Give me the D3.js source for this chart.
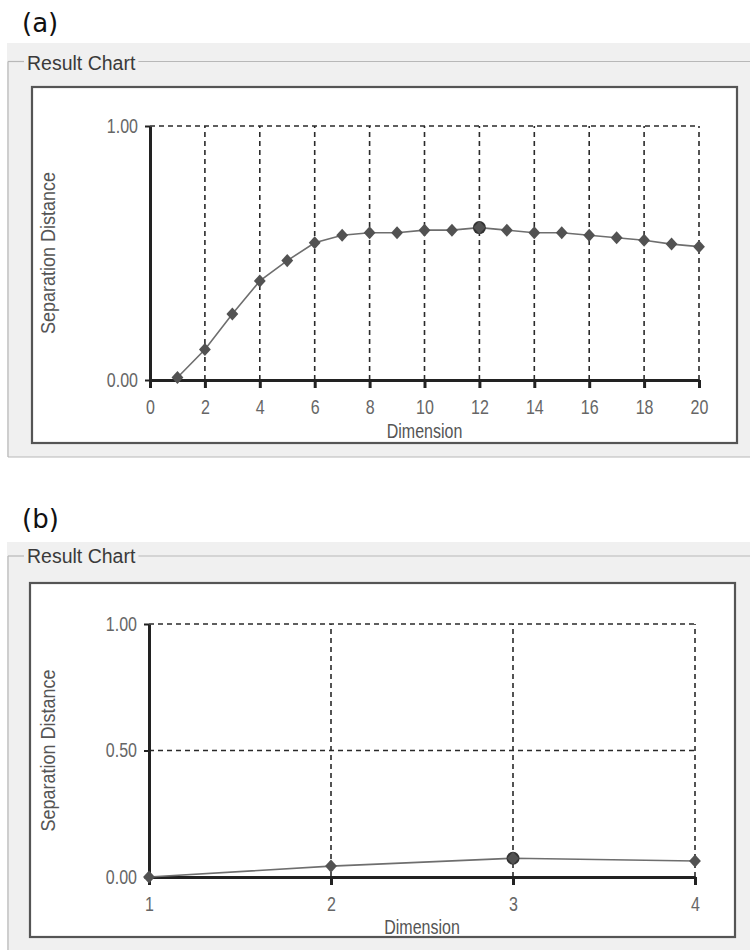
<!DOCTYPE html>
<html><head><meta charset="utf-8">
<script src="https://cdn.jsdelivr.net/npm/d3@7"></script>
<style>
html,body{margin:0;padding:0;background:#fff;}
svg{display:block;}
</style></head><body>
<svg id="c" width="750" height="950"></svg>
<script>
// ---------- data ----------
const panelLabels = ["(a)", "(b)"];
const boxTitle = "Result Chart";
const xAxisTitle = "Dimension";
const yAxisTitle = "Separation Distance";

const dimsA = [1,2,3,4,5,6,7,8,9,10,11,12,13,14,15,16,17,18,19,20];
const distA = [0.01,0.12,0.26,0.39,0.47,0.54,0.57,0.58,0.58,0.59,0.59,0.60,0.59,0.58,0.58,0.57,0.56,0.55,0.535,0.525];
const xTicksA = [0,2,4,6,8,10,12,14,16,18,20];
const yTicksA = [0,1];
const selectedA = [12];

const dimsB = [1,2,3,4];
const distB = [0.0,0.043,0.074,0.063];
const xTicksB = [1,2,3,4];
const yTicksB = [0,0.5,1];
const selectedB = [3];

// ---------- layout (positions only) ----------
const layouts = [
  {labelY:32, grayTop:43, grayBottom:457, lineY:61.5, titleY:70,
   frame:{x0:32,y0:87,x1:737,y1:443}, plot:{x0:150,x1:699,y0:126,y1:380},
   xDomain:[0,20], xTitleY:438, yTitleX:55},
  {labelY:528, grayTop:542, grayBottom:960, lineY:556, titleY:563,
   frame:{x0:30,y0:583,x1:735,y1:937}, plot:{x0:149,x1:695,y0:624,y1:877},
   xDomain:[1,4], xTitleY:934, yTitleX:55}
];
const panels = [
  {label:panelLabels[0], dims:dimsA, dist:distA, xTicks:xTicksA, yTicks:yTicksA, sel:selectedA},
  {label:panelLabels[1], dims:dimsB, dist:distB, xTicks:xTicksB, yTicks:yTicksB, sel:selectedB}
];

const FONT = "'Liberation Sans', Arial, sans-serif";
const svg = d3.select("#c");

const diamondType = {
  draw(ctx, size) {
    const r = Math.sqrt(size / 2);
    ctx.moveTo(0, -r * 1.1);
    ctx.lineTo(r, 0);
    ctx.lineTo(0, r * 1.1);
    ctx.lineTo(-r, 0);
    ctx.closePath();
  }
};

panels.forEach((p, i) => {
  const L = layouts[i];
  const g = svg.append("g");

  // panel label
  g.append("text").attr("x", 22).attr("y", L.labelY)
    .attr("font-family", "'DejaVu Sans', sans-serif").attr("font-size", 26)
    .attr("fill", "#111").text(p.label);

  // gray group box background
  g.append("rect").attr("x", 7).attr("y", L.grayTop)
    .attr("width", 743).attr("height", L.grayBottom - L.grayTop)
    .attr("fill", "#f0f0f0");

  // group box etched lines
  const title = g.append("text").attr("x", 27).attr("y", L.titleY)
    .attr("font-family", FONT).attr("font-size", 19.5).attr("fill", "#3a3a3a")
    .text(boxTitle);
  const tw = title.node().getComputedTextLength();
  const etch = (x1, y1, x2, y2) => {
    g.append("line").attr("x1", x1).attr("y1", y1).attr("x2", x2).attr("y2", y2)
      .attr("stroke", "#b8b8b8").attr("stroke-width", 1.2);
  };
  etch(8, L.lineY, 24, L.lineY);
  etch(27 + tw + 3, L.lineY, 750, L.lineY);
  etch(8, L.lineY, 8, Math.min(L.grayBottom, 950));
  if (L.grayBottom < 950) etch(8, L.grayBottom, 750, L.grayBottom);

  // chart frame
  const F = L.frame;
  g.append("rect").attr("x", F.x0).attr("y", F.y0)
    .attr("width", F.x1 - F.x0).attr("height", F.y1 - F.y0)
    .attr("fill", "#fff").attr("stroke", "#555").attr("stroke-width", 2.2);

  const P = L.plot;
  const x = d3.scaleLinear().domain(L.xDomain).range([P.x0, P.x1]);
  const y = d3.scaleLinear().domain([0, 1]).range([P.y1, P.y0]);

  // grid
  const grid = g.append("g").attr("stroke", "#2a2a2a").attr("stroke-width", 1.6)
    .attr("stroke-dasharray", "5,4").attr("fill", "none");
  p.xTicks.filter(t => t !== L.xDomain[0]).forEach(t => {
    grid.append("line").attr("x1", x(t)).attr("x2", x(t))
      .attr("y1", y(0)).attr("y2", y(1));
  });
  p.yTicks.filter(t => t !== 0).forEach(t => {
    grid.append("line").attr("x1", x(L.xDomain[0])).attr("x2", x(L.xDomain[1]))
      .attr("y1", y(t)).attr("y2", y(t));
  });

  // x axis
  const xa = g.append("g").attr("transform", `translate(0,${y(0)})`)
    .call(d3.axisBottom(x).tickValues(p.xTicks).tickFormat(d3.format("d"))
      .tickSizeInner(8).tickSizeOuter(0).tickPadding(12));
  xa.select(".domain").attr("stroke", "#222").attr("stroke-width", 3);
  xa.selectAll(".tick line").attr("stroke", "#222").attr("stroke-width", 3);
  xa.selectAll(".tick text").attr("font-family", FONT).attr("font-size", 20)
    .attr("fill", "#666").attr("transform", "scale(0.8,1)");

  // y axis
  const ya = g.append("g").attr("transform", `translate(${x(L.xDomain[0])},0)`)
    .call(d3.axisLeft(y).tickValues(p.yTicks).tickFormat(d3.format(".2f"))
      .tickSizeInner(5).tickSizeOuter(0).tickPadding(7));
  ya.select(".domain").attr("stroke", "#222").attr("stroke-width", 3);
  ya.selectAll(".tick line").attr("stroke", "#222").attr("stroke-width", 2);
  ya.selectAll(".tick text").attr("font-family", FONT).attr("font-size", 20)
    .attr("fill", "#666").attr("x", -12 / 0.8).attr("transform", "scale(0.8,1)");

  // axis titles
  g.append("text")
    .attr("transform", `translate(${(P.x0 + P.x1) / 2},${L.xTitleY}) scale(0.8,1)`)
    .attr("text-anchor", "middle").attr("font-family", FONT).attr("font-size", 20)
    .attr("fill", "#555").text(xAxisTitle);
  g.append("text")
    .attr("transform", `translate(${L.yTitleX},${(P.y0 + P.y1) / 2}) rotate(-90) scale(0.9,1)`)
    .attr("text-anchor", "middle").attr("font-family", FONT).attr("font-size", 20)
    .attr("fill", "#555").text(yAxisTitle);

  // series line
  const pts = p.dims.map((d, k) => [d, p.dist[k]]);
  g.append("path").datum(pts)
    .attr("d", d3.line().x(d => x(d[0])).y(d => y(d[1])))
    .attr("fill", "none").attr("stroke", "#6e6e6e").attr("stroke-width", 1.6);

  // selected markers
  g.selectAll(".sel").data(pts.filter(d => p.sel.includes(d[0]))).join("circle")
    .attr("cx", d => x(d[0])).attr("cy", d => y(d[1])).attr("r", 6.5)
    .attr("fill", "#333");

  // markers
  g.selectAll(".mk").data(pts).join("path")
    .attr("transform", d => `translate(${x(d[0])},${y(d[1])})`)
    .attr("d", d3.symbol().type(diamondType).size(70))
    .attr("fill", "#525252");
});
</script>
</body></html>
